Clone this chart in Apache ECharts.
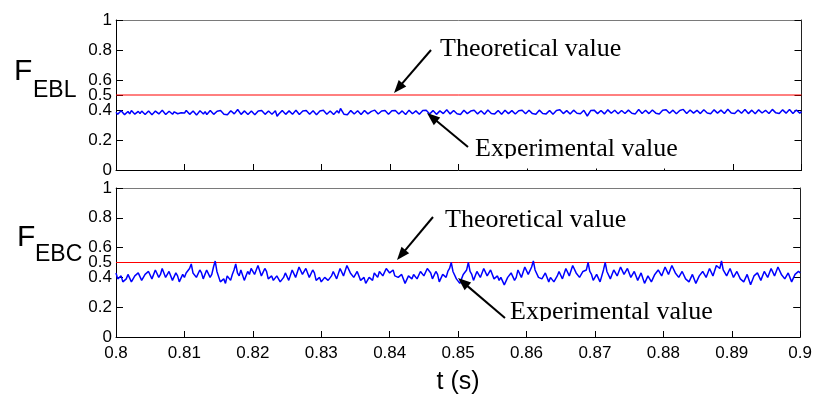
<!DOCTYPE html>
<html><head><meta charset="utf-8">
<script src="https://cdn.jsdelivr.net/npm/echarts@6/dist/echarts.min.js"></script>
<style>html,body{margin:0;padding:0;background:#fff}#c{width:815px;height:396px}</style>
</head><body><div id="c"></div>
<script>
// ---- data ----
const tStart = 0.8, tEnd = 0.9, tStep = 0.00025;
const xTickInterval = 0.01;
const yTickValues = [0, 0.2, 0.4, 0.5, 0.6, 0.8, 1];
const theoreticalValue = 0.5;
const annotationLabels = ['Theoretical value', 'Experimental value'];
const xAxisTitle = 't (s)';
const panelNames = ['EBL', 'EBC'];

// even samples (t = 0.8 + k*0.0005)
const feblEven = [
0.385,0.378,0.392,0.381,0.374,0.387,0.383,0.376,0.389,0.380,
0.384,0.372,0.386,0.379,0.391,0.377,0.383,0.388,0.375,0.382,
0.380,0.393,0.378,0.385,0.371,0.384,0.389,0.379,0.386,0.376,
0.383,0.390,0.380,0.374,0.387,0.381,0.395,0.378,0.384,0.379,
0.386,0.373,0.382,0.389,0.377,0.385,0.380,0.358,0.383,0.388,
0.379,0.386,0.381,0.392,0.376,0.384,0.389,0.380,0.387,0.375,
0.383,0.391,0.378,0.386,0.382,0.379,0.401,0.384,0.377,0.388,
0.381,0.386,0.374,0.389,0.383,0.379,0.392,0.385,0.380,0.387,
0.376,0.384,0.390,0.381,0.386,0.378,0.393,0.382,0.387,0.379,
0.385,0.391,0.380,0.388,0.376,0.386,0.383,0.395,0.381,0.389,
0.384,0.378,0.392,0.385,0.380,0.390,0.383,0.387,0.379,0.394,
0.386,0.381,0.389,0.377,0.391,0.384,0.388,0.380,0.386,0.393,
0.382,0.389,0.385,0.379,0.392,0.386,0.383,0.390,0.381,0.387,
0.395,0.384,0.388,0.380,0.391,0.386,0.382,0.389,0.365,0.387,
0.392,0.384,0.388,0.381,0.394,0.386,0.390,0.383,0.389,0.385,
0.391,0.387,0.382,0.396,0.385,0.390,0.384,0.392,0.387,0.381,
0.389,0.394,0.386,0.391,0.383,0.388,0.397,0.385,0.392,0.387,
0.390,0.384,0.395,0.388,0.382,0.393,0.387,0.391,0.385,0.398,
0.389,0.384,0.392,0.387,0.395,0.386,0.391,0.383,0.394,0.388,
0.392,0.386,0.397,0.389,0.384,0.393,0.388,0.395,0.386,0.391,
0.389
];
// odd samples (t = 0.80025 + k*0.0005)
const feblOdd = [
0.371,0.395,0.369,0.390,0.396,0.372,0.391,0.393,0.370,0.394,
0.368,0.393,0.374,0.398,0.370,0.392,0.372,0.394,0.369,0.392,
0.397,0.371,0.393,0.366,0.395,0.373,0.370,0.396,0.371,0.392,
0.397,0.372,0.368,0.395,0.374,0.403,0.371,0.394,0.370,0.393,
0.369,0.394,0.396,0.371,0.393,0.372,0.395,0.373,0.396,0.371,
0.394,0.372,0.398,0.370,0.393,0.397,0.371,0.395,0.369,0.394,
0.398,0.372,0.393,0.370,0.395,0.410,0.372,0.369,0.396,0.373,
0.395,0.370,0.397,0.374,0.391,0.399,0.373,0.393,0.396,0.371,
0.395,0.397,0.373,0.394,0.370,0.399,0.375,0.394,0.372,0.396,
0.398,0.373,0.396,0.371,0.394,0.376,0.401,0.374,0.397,0.375,
0.370,0.398,0.376,0.393,0.399,0.374,0.395,0.372,0.400,0.377,
0.374,0.397,0.371,0.398,0.376,0.396,0.373,0.395,0.399,0.375,
0.398,0.376,0.372,0.399,0.377,0.374,0.397,0.372,0.396,0.401,
0.376,0.396,0.373,0.399,0.378,0.375,0.398,0.360,0.396,0.399,
0.376,0.397,0.374,0.401,0.378,0.398,0.375,0.397,0.377,0.399,
0.378,0.374,0.403,0.377,0.398,0.376,0.400,0.379,0.374,0.398,
0.402,0.378,0.399,0.375,0.397,0.404,0.377,0.400,0.379,0.398,
0.376,0.402,0.380,0.375,0.401,0.379,0.399,0.377,0.405,0.380,
0.377,0.400,0.378,0.403,0.376,0.399,0.375,0.401,0.380,0.398,
0.377,0.404,0.381,0.376,0.401,0.379,0.403,0.377,0.400,0.379
];

const febcEven = [
0.43,0.40,0.37,0.39,0.41,0.38,0.40,0.42,0.39,0.41,
0.43,0.40,0.44,0.42,0.45,0.41,0.43,0.39,0.41,0.38,
0.40,0.42,0.49,0.44,0.41,0.43,0.40,0.44,0.42,0.51,
0.43,0.38,0.36,0.40,0.42,0.49,0.41,0.44,0.39,0.42,
0.45,0.43,0.47,0.42,0.44,0.40,0.38,0.41,0.37,0.40,
0.42,0.39,0.44,0.41,0.46,0.43,0.45,0.41,0.43,0.39,
0.37,0.40,0.38,0.41,0.43,0.40,0.45,0.42,0.47,0.44,
0.41,0.43,0.39,0.36,0.40,0.38,0.42,0.44,0.41,0.46,
0.43,0.45,0.42,0.39,0.41,0.37,0.40,0.42,0.39,0.44,
0.41,0.46,0.43,0.40,0.42,0.38,0.41,0.44,0.50,0.43,
0.40,0.37,0.41,0.50,0.42,0.39,0.43,0.41,0.45,0.42,
0.44,0.40,0.38,0.41,0.36,0.39,0.42,0.40,0.44,0.41,
0.46,0.43,0.51,0.44,0.41,0.38,0.42,0.40,0.37,0.41,
0.43,0.40,0.45,0.42,0.47,0.44,0.41,0.43,0.50,0.42,
0.39,0.41,0.38,0.50,0.43,0.40,0.44,0.42,0.46,0.43,
0.45,0.41,0.43,0.39,0.42,0.37,0.40,0.38,0.41,0.44,
0.42,0.46,0.43,0.47,0.44,0.41,0.43,0.40,0.38,0.41,
0.37,0.40,0.43,0.41,0.45,0.42,0.47,0.51,0.44,0.42,
0.45,0.41,0.43,0.40,0.38,0.41,0.36,0.40,0.42,0.39,
0.43,0.41,0.45,0.42,0.46,0.43,0.40,0.42,0.38,0.41,
0.43
];
const febcOdd = [
0.39,0.41,0.36,0.42,0.37,0.41,0.43,0.38,0.42,0.44,
0.39,0.45,0.40,0.46,0.40,0.44,0.38,0.43,0.37,0.42,
0.43,0.46,0.43,0.40,0.45,0.39,0.45,0.40,0.47,0.44,
0.37,0.39,0.41,0.38,0.45,0.43,0.45,0.38,0.44,0.46,
0.42,0.48,0.41,0.46,0.39,0.41,0.37,0.42,0.36,0.43,
0.38,0.45,0.40,0.47,0.42,0.46,0.40,0.45,0.38,0.40,
0.36,0.41,0.37,0.44,0.39,0.46,0.41,0.48,0.43,0.40,
0.44,0.38,0.40,0.37,0.41,0.43,0.40,0.45,0.42,0.47,
0.44,0.41,0.40,0.42,0.36,0.41,0.39,0.43,0.40,0.45,
0.42,0.45,0.39,0.44,0.37,0.42,0.40,0.46,0.44,0.39,
0.36,0.42,0.45,0.44,0.38,0.44,0.40,0.46,0.41,0.45,
0.39,0.41,0.40,0.35,0.40,0.43,0.38,0.45,0.40,0.47,
0.42,0.47,0.45,0.40,0.39,0.43,0.37,0.41,0.39,0.44,
0.39,0.46,0.41,0.48,0.43,0.40,0.44,0.45,0.44,0.38,
0.42,0.37,0.45,0.44,0.39,0.45,0.41,0.47,0.42,0.46,
0.40,0.44,0.38,0.43,0.36,0.41,0.37,0.42,0.45,0.41,
0.47,0.42,0.48,0.43,0.40,0.44,0.39,0.37,0.42,0.36,
0.41,0.44,0.40,0.46,0.41,0.48,0.46,0.45,0.41,0.46,
0.40,0.44,0.39,0.37,0.42,0.35,0.41,0.43,0.38,0.44,
0.40,0.46,0.41,0.47,0.42,0.39,0.43,0.37,0.42,0.44
];

// ---- build ----
function interleave(even, odd){
  const out = [];
  for (let i = 0; i < even.length; i++) {
    out.push(even[i]);
    if (i < odd.length) out.push(odd[i]);
  }
  return out;
}
function toPairs(vals){ return vals.map((v,i)=>[+(tStart + i*tStep).toFixed(6), v]); }

const chart = echarts.init(document.getElementById('c'), null, {renderer:'canvas'});
const sans = "'Liberation Sans', Arial, Helvetica, sans-serif";
const serif = "'Liberation Serif', 'Times New Roman', serif";

const grids = [
  {left:116, top:20, width:685.5, height:150},
  {left:116, top:188, width:685.5, height:149}
];

const xAxes = [], yAxes = [];
grids.forEach((g, gi) => {
  const last = gi === grids.length - 1;
  xAxes.push({
    type:'value', gridIndex:gi, position:'bottom', min:tStart, max:tEnd, interval:xTickInterval,
    axisLine:{show:true, onZero:false, lineStyle:{color:'#000', width:1}},
    axisTick:{show:true, inside:true, length:6, lineStyle:{color:'#000'}},
    axisLabel:{show:last, color:'#000', fontFamily:sans, fontSize:17, margin:8,
      formatter:v=>String(+(+v).toFixed(2))},
    splitLine:{show:false},
    name: last ? xAxisTitle : '', nameLocation:'middle', nameGap:33,
    nameTextStyle:{color:'#000', fontFamily:sans, fontSize:25}
  });
  xAxes.push({
    type:'value', gridIndex:gi, position:'top', min:tStart, max:tEnd, interval:xTickInterval,
    axisLine:{show:true, onZero:false, lineStyle:{color:'#7a7a7a', width:1}},
    axisTick:{show:false}, axisLabel:{show:false}, splitLine:{show:false}
  });
  yAxes.push({
    type:'value', gridIndex:gi, position:'left', min:0, max:1, interval:0.1,
    axisLine:{show:true, onZero:false, lineStyle:{color:'#000', width:1}},
    axisTick:{show:true, inside:true, length:7, customValues:yTickValues, lineStyle:{color:'#000'}},
    axisLabel:{show:true, color:'#000', fontFamily:sans, fontSize:17, margin:4,
      customValues:yTickValues,
      formatter:v=>{ const r=+(+v).toFixed(2); return yTickValues.some(t=>Math.abs(t-r)<1e-6)?String(r):''; }},
    splitLine:{show:false}
  });
  yAxes.push({
    type:'value', gridIndex:gi, position:'right', min:0, max:1, interval:0.1,
    axisLine:{show:true, onZero:false, lineStyle:{color:'#222', width:1}},
    axisTick:{show:true, inside:true, length:7, customValues:yTickValues, lineStyle:{color:'#000'}},
    axisLabel:{show:false}, splitLine:{show:false}
  });
});

const expData = [interleave(feblEven, feblOdd), interleave(febcEven, febcOdd)];
const series = [];
grids.forEach((g, gi) => {
  series.push({
    type:'line', xAxisIndex:gi*2, yAxisIndex:gi*2, symbol:'none', silent:true,
    data:[[tStart, theoreticalValue],[tEnd, theoreticalValue]],
    lineStyle:{color:'#ff0000', width:1}, z:3
  });
  series.push({
    type:'line', xAxisIndex:gi*2, yAxisIndex:gi*2, symbol:'none', silent:true, sampling:null,
    data:toPairs(expData[gi]),
    lineStyle:{color:'#0000ff', width:1.5}, z:4
  });
});

// ---- annotations ----
function arrow(x1,y1,x2,y2){
  const dx=x2-x1, dy=y2-y1, L=Math.hypot(dx,dy), ux=dx/L, uy=dy/L;
  const hl=13, hw=5;
  const bx=x2-ux*hl, by=y2-uy*hl;
  return [
    {type:'line', shape:{x1:x1,y1:y1,x2:bx+ux*2,y2:by+uy*2}, style:{stroke:'#000', lineWidth:2}, z:10},
    {type:'polygon', shape:{points:[[x2,y2],[bx-uy*hw,by+ux*hw],[bx+uy*hw,by-ux*hw]]}, style:{fill:'#000'}, z:10}
  ];
}
function txt(s,x,y,font,align){
  return {type:'text', x:x, y:y, z:10, style:{text:s, font:font, fill:'#000', textAlign:align||'left', textVerticalAlign:'middle'}};
}
const graphic = [
  txt('F', 14, 72, '30px '+sans),
  txt(panelNames[0], 33, 91, '23px '+sans),
  txt('F', 17, 238, '30px '+sans),
  txt(panelNames[1], 35, 255, '23px '+sans),
  txt(annotationLabels[0], 440, 49, '26px '+serif),
  txt(annotationLabels[1], 475, 149, '26px '+serif),
  txt(annotationLabels[0], 445, 220, '26px '+serif),
  txt(annotationLabels[1], 510, 312, '26px '+serif),
  {type:'rect', shape:{x:470,y:158.5,width:240,height:10}, style:{fill:'#fff'}, z:11},
  {type:'rect', shape:{x:505,y:321,width:225,height:7.5}, style:{fill:'#fff'}, z:11},
  ...arrow(431,50,394,93),
  ...arrow(468,147,427,113),
  ...arrow(433,217,397,260),
  ...arrow(505,318,458,278)
];

chart.setOption({
  animation:false,
  backgroundColor:'#fff',
  grid:grids.map(g=>Object.assign({show:false, containLabel:false}, g)),
  xAxis:xAxes, yAxis:yAxes, series:series, graphic:graphic
});
</script></body></html>
